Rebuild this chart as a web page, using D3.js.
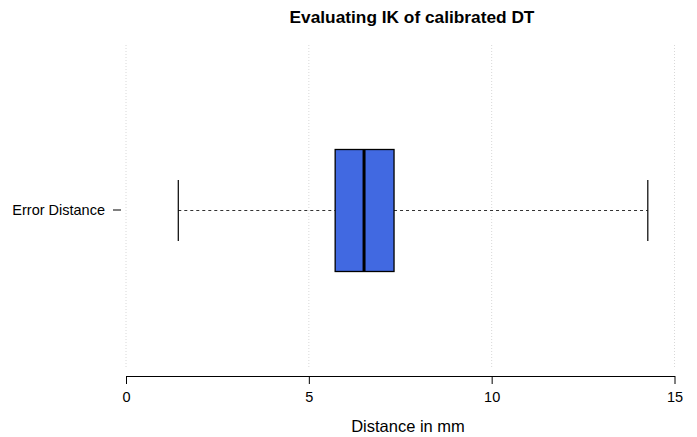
<!DOCTYPE html>
<html>
<head>
<meta charset="utf-8">
<script src="https://cdn.jsdelivr.net/npm/d3@7"></script>
<style>
  body { margin: 0; background: #fff; }
  svg { font-family: "Liberation Sans", Arial, sans-serif; }
</style>
</head>
<body>
<svg id="chart" width="697" height="437"></svg>
<script>
  // boxplot stats
  var categories = ['Error Distance'];
  var whiskerLow = [1.43];
  var quartile1 = [5.72];
  var medians = [6.51];
  var quartile3 = [7.33];
  var whiskerHigh = [14.27];
  var tickValues = [0, 5, 10, 15];

  var svg = d3.select('#chart');

  var x = d3.scaleLinear()
      .domain([0, 15])
      .range([126, 674.5]);

  var y = d3.scaleBand()
      .domain(categories)
      .range([45, 376]);

  var boxHalf = 61;

  // dotted vertical grid
  svg.append('g')
      .attr('class', 'grid')
    .selectAll('line')
    .data(tickValues)
    .enter().append('line')
      .attr('x1', function(d) { return x(d); })
      .attr('x2', function(d) { return x(d); })
      .attr('y1', 45)
      .attr('y2', 368)
      .attr('stroke', '#d8d8d8')
      .attr('stroke-width', 1)
      .attr('stroke-dasharray', '1,2');

  // x axis
  var xAxis = d3.axisBottom(x)
      .tickValues(tickValues)
      .tickSizeInner(8)
      .tickSizeOuter(0)
      .tickPadding(8);

  var gx = svg.append('g')
      .attr('transform', 'translate(0,376)')
      .call(xAxis);
  gx.select('.domain').attr('stroke', '#000').attr('stroke-width', 1.2);
  gx.selectAll('.tick line').attr('stroke', '#000');
  gx.selectAll('.tick text')
      .attr('fill', '#000')
      .style('font-size', '14.5px')
      .style('font-family', '"Liberation Sans", Arial, sans-serif');

  // y axis (category label with short tick)
  var yAxis = d3.axisLeft(y)
      .tickSizeInner(8)
      .tickSizeOuter(0)
      .tickPadding(8);

  var gy = svg.append('g')
      .attr('transform', 'translate(121,-0.5)')
      .call(yAxis);
  gy.select('.domain').remove();
  gy.selectAll('.tick line').attr('stroke', '#000');
  gy.selectAll('.tick text')
      .attr('fill', '#000')
      .style('font-size', '14.5px')
      .style('font-family', '"Liberation Sans", Arial, sans-serif');

  // boxes
  var boxes = svg.append('g')
      .attr('class', 'boxes')
    .selectAll('g')
    .data(categories)
    .enter().append('g');

  var cy = function(d) { return y(d) + y.bandwidth() / 2; };

  boxes.append('line')
      .attr('x1', function(d, i) { return x(whiskerLow[i]); })
      .attr('x2', function(d, i) { return x(quartile1[i]); })
      .attr('y1', cy)
      .attr('y2', cy)
      .attr('stroke', '#333')
      .attr('stroke-dasharray', '3,3');

  boxes.append('line')
      .attr('x1', function(d, i) { return x(quartile3[i]); })
      .attr('x2', function(d, i) { return x(whiskerHigh[i]); })
      .attr('y1', cy)
      .attr('y2', cy)
      .attr('stroke', '#333')
      .attr('stroke-dasharray', '3,3');

  boxes.append('line')
      .attr('x1', function(d, i) { return x(whiskerLow[i]); })
      .attr('x2', function(d, i) { return x(whiskerLow[i]); })
      .attr('y1', function(d) { return cy(d) - boxHalf / 2; })
      .attr('y2', function(d) { return cy(d) + boxHalf / 2; })
      .attr('stroke', '#000')
      .attr('stroke-width', 1.2);

  boxes.append('line')
      .attr('x1', function(d, i) { return x(whiskerHigh[i]); })
      .attr('x2', function(d, i) { return x(whiskerHigh[i]); })
      .attr('y1', function(d) { return cy(d) - boxHalf / 2; })
      .attr('y2', function(d) { return cy(d) + boxHalf / 2; })
      .attr('stroke', '#000')
      .attr('stroke-width', 1.2);

  boxes.append('rect')
      .attr('x', function(d, i) { return x(quartile1[i]); })
      .attr('width', function(d, i) { return x(quartile3[i]) - x(quartile1[i]); })
      .attr('y', function(d) { return cy(d) - boxHalf; })
      .attr('height', boxHalf * 2)
      .attr('fill', '#4169e1')
      .attr('stroke', '#000')
      .attr('stroke-width', 1.3);

  boxes.append('line')
      .attr('x1', function(d, i) { return x(medians[i]); })
      .attr('x2', function(d, i) { return x(medians[i]); })
      .attr('y1', function(d) { return cy(d) - boxHalf; })
      .attr('y2', function(d) { return cy(d) + boxHalf; })
      .attr('stroke', '#000')
      .attr('stroke-width', 3);

  // title and axis label
  svg.append('text')
      .attr('x', 412)
      .attr('y', 23)
      .attr('text-anchor', 'middle')
      .style('font-size', '17.3px')
      .style('font-weight', 'bold')
      .text('Evaluating IK of calibrated DT');

  svg.append('text')
      .attr('x', 408)
      .attr('y', 432)
      .attr('text-anchor', 'middle')
      .style('font-size', '16.5px')
      .text('Distance in mm');
</script>
</body>
</html>
